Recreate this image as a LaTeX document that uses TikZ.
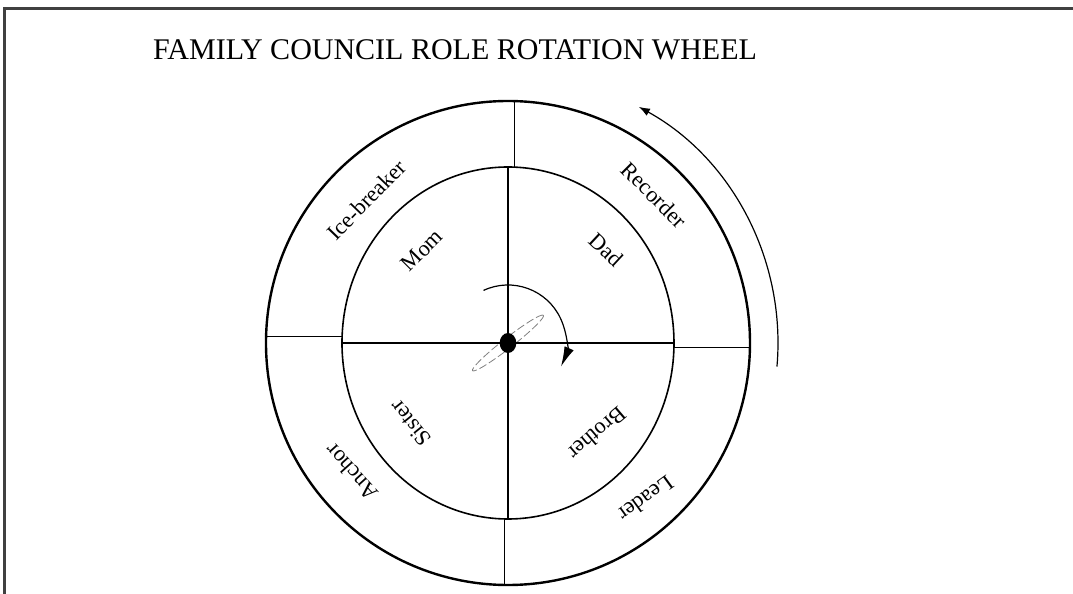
\documentclass[tikz,border=0pt]{standalone}
\usepackage{fontspec}
\setmainfont{Liberation Serif}
\usetikzlibrary{arrows.meta}

\begin{document}
\begin{tikzpicture}[x=0.5pt, y=0.5pt,
    lbl/.style={font=\fontsize{11.2}{13}\selectfont, inner sep=0pt},
    divider/.style={line width=0.5pt}]

    \useasboundingbox (-508,-251) rectangle (565,343);

    % frame, only top and left edge show
    \draw [line width=1.5pt, black!75] (-503,-251) -- (-503,334.5) -- (565,334.5);
    \node (title) [font=\fontsize{15}{17}\selectfont] at (-53,293) {FAMILY COUNCIL ROLE ROTATION WHEEL};

    % wheel
    \draw [line width=1.2pt] (0,0) circle (242);
    \draw [line width=0.8pt] (0,0) ellipse (166 and 176);
    \draw [dashed, dash pattern=on 4pt off 1.5pt, gray, line width=0.4pt, rotate=38] (0,0) ellipse (45 and 5);
    \draw [line width=1pt] (-166,0) -- (166,0);
    \draw [line width=1pt] (0,-176) -- (0,176);
    \draw [divider] (7,176) -- (7,242);
    \draw [divider] (166,-5) -- (242,-5);
    \draw [divider] (-3,-176) -- (-3,-242);
    \draw [divider] (-242,6) -- (-166,6);
    \fill (0,0) ellipse (8.3 and 10);

    % outer ring: roles
    \node (icebreaker) [lbl, rotate=46] at (-141.5,143) {Ice-breaker};
    \node (recorder) [lbl, rotate=-45] at (146,148) {Recorder};
    \node (leader) [lbl, rotate=-144] at (138,-156) {Leader};
    \node (anchor) [lbl, rotate=132] at (-156.5,-129.5) {Anchor};

    % inner ring: members
    \node (mom) [lbl, rotate=45] at (-86,93) {Mom};
    \node (dad) [lbl, rotate=-43] at (98.5,93) {Dad};
    \node (brother) [lbl, rotate=-139.5] at (89.5,-90.5) {Brother};
    \node (sister) [lbl, rotate=129] at (-97.5,-80.5) {Sister};

    % turning arrows
    \draw [-{Latex[length=10pt,width=5pt]}, line width=0.6pt] (115:58) arc [start angle=115, end angle=-24, radius=58];
    \draw [-{Latex[length=5.5pt,width=4pt]}, line width=0.6pt] (-5:270) arc [start angle=-5, end angle=61, radius=270];
\end{tikzpicture}
\end{document}
